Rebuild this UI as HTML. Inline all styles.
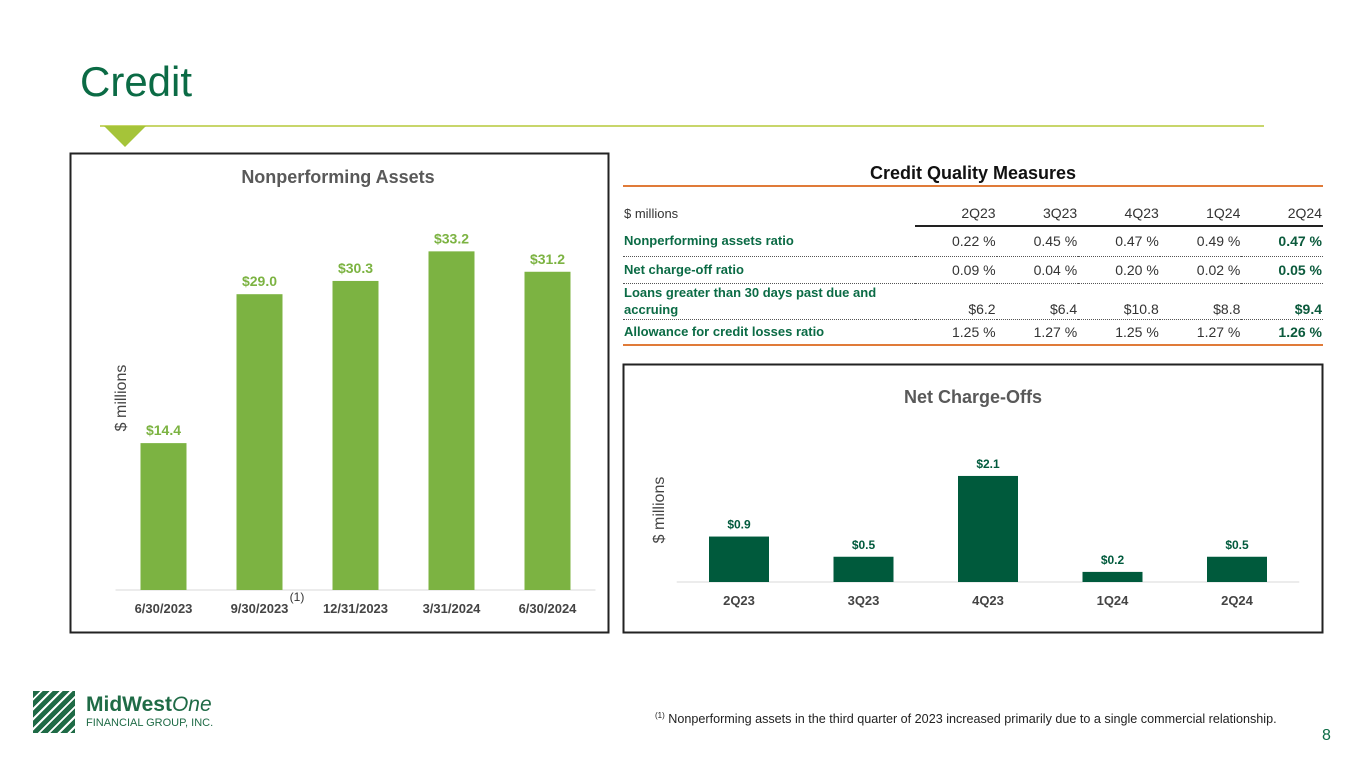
<!DOCTYPE html>
<html><head><meta charset="utf-8"><style>
body{margin:0;width:1365px;height:768px;background:#fff;font-family:"Liberation Sans",sans-serif;position:relative;overflow:hidden}
.abs{position:absolute}
table{border-collapse:collapse}
td{padding:0 1px}
</style></head><body>
<div class="abs" style="left:80px;top:58px;font-size:42px;color:#0b6b45">Credit</div>
<div class="abs" style="left:100px;top:125px;width:1164px;height:2px;background:#c8d66b"></div>
<svg class="abs" style="left:104px;top:126px" width="42" height="22"><polygon points="0,0 42,0 21,21" fill="#a5c439"/></svg>

<svg class="abs" style="left:0;top:0" width="1365" height="768">
<rect x="70.5" y="153.5" width="538" height="479" fill="none" stroke="#222" stroke-width="2"/>
<text x="338" y="183" text-anchor="middle" font-size="18" font-weight="bold" fill="#595959">Nonperforming Assets</text>
<text transform="translate(126,398) rotate(-90)" text-anchor="middle" font-size="16" fill="#444">$ millions</text>
<g id="npa"></g>
<text x="297" y="601" text-anchor="middle" font-size="12" fill="#333">(1)</text>
<rect x="623.5" y="364.5" width="699" height="268" fill="none" stroke="#222" stroke-width="2"/>
<text x="973" y="403" text-anchor="middle" font-size="18" font-weight="bold" fill="#595959">Net Charge-Offs</text>
<text transform="translate(664,510) rotate(-90)" text-anchor="middle" font-size="16" fill="#444">$ millions</text>
<g id="nco"></g>
</svg>

<div class="abs" style="left:623px;top:163px;width:700px;text-align:center;font-size:18px;font-weight:bold;color:#111">Credit Quality Measures</div>
<div class="abs" style="left:623px;top:185px;width:700px;height:2px;background:#e07b39"></div>
<table class="abs" style="left:623px;top:200px;width:700px;font-size:14px;color:#333">
<tr style="height:26px"><td style="font-size:13px">$ millions</td><td style="text-align:right;border-bottom:2px solid #222">2Q23</td><td style="text-align:right;border-bottom:2px solid #222">3Q23</td><td style="text-align:right;border-bottom:2px solid #222">4Q23</td><td style="text-align:right;border-bottom:2px solid #222">1Q24</td><td style="text-align:right;border-bottom:2px solid #222">2Q24</td></tr>
<tr style="height:30px;border-bottom:1px dotted #555"><td style="color:#0b6b45;font-weight:bold;font-size:13px">Nonperforming assets ratio</td><td align="right">0.22 %</td><td align="right">0.45 %</td><td align="right">0.47 %</td><td align="right">0.49 %</td><td align="right" style="font-weight:bold;color:#0b5a3c">0.47 %</td></tr>
<tr style="height:27px;border-bottom:1px dotted #555"><td style="color:#0b6b45;font-weight:bold;font-size:13px">Net charge-off ratio</td><td align="right">0.09 %</td><td align="right">0.04 %</td><td align="right">0.20 %</td><td align="right">0.02 %</td><td align="right" style="font-weight:bold;color:#0b5a3c">0.05 %</td></tr>
<tr style="height:36px;border-bottom:1px dotted #555"><td style="color:#0b6b45;font-weight:bold;font-size:13px;width:290px;line-height:17px">Loans greater than 30 days past due and accruing</td><td align="right" style="vertical-align:bottom;padding-bottom:2px">$6.2</td><td align="right" style="vertical-align:bottom;padding-bottom:2px">$6.4</td><td align="right" style="vertical-align:bottom;padding-bottom:2px">$10.8</td><td align="right" style="vertical-align:bottom;padding-bottom:2px">$8.8</td><td align="right" style="font-weight:bold;color:#0b5a3c;vertical-align:bottom;padding-bottom:2px">$9.4</td></tr>
<tr style="height:26px;border-bottom:2px solid #e07b39"><td style="color:#0b6b45;font-weight:bold;font-size:13px">Allowance for credit losses ratio</td><td align="right">1.25 %</td><td align="right">1.27 %</td><td align="right">1.25 %</td><td align="right">1.27 %</td><td align="right" style="font-weight:bold;color:#0b5a3c">1.26 %</td></tr>
</table>

<div class="abs" style="left:33px;top:691px;width:42px;height:42px;background:repeating-linear-gradient(135deg,#1f6b46 0 5px,#fff 5px 7px)"></div>
<div class="abs" style="left:86px;top:693px;font-size:21px;font-weight:bold;color:#1f6b46">MidWest<i style="font-weight:normal">One</i></div>
<div class="abs" style="left:86px;top:717px;font-size:11px;color:#1f6b46">FINANCIAL GROUP, INC.</div>
<div class="abs" style="left:655px;top:711px;font-size:12.6px;color:#222"><sup style="font-size:8px">(1)</sup> Nonperforming assets in the third quarter of 2023 increased primarily due to a single commercial relationship.</div>
<div class="abs" style="left:1322px;top:727px;font-size:16px;color:#0b6b45">8</div>

<script>
const npaCategories=["6/30/2023","9/30/2023","12/31/2023","3/31/2024","6/30/2024"];
const npaValues=[14.4,29.0,30.3,33.2,31.2];
const ncoCategories=["2Q23","3Q23","4Q23","1Q24","2Q24"];
const ncoValues=[0.9,0.5,2.1,0.2,0.5];
const NS="http://www.w3.org/2000/svg";
function mk(g,t,a){const e=document.createElementNS(NS,t);for(const k in a)e.setAttribute(k,a[k]);g.appendChild(e);return e;}
function draw(id,cats,vals,x0,step,bw,base,scale,color,fs,name){
  const g=document.getElementById(id);
  const ax=mk(g,'line',{x1:x0-step/2,x2:x0+step*(cats.length-0.5),y1:base,y2:base,stroke:'#d9d9d9'});
  
  
  cats.forEach((c,i)=>{
    const cx=x0+i*step,h=vals[i]*scale;
    const r=mk(g,'rect',{x:cx-bw/2,y:base-h,width:bw,height:h,fill:color});
    
    
    const l=mk(g,'text',{x:cx,y:base-h-8,'text-anchor':'middle','font-size':fs,'font-weight':'bold',fill:color});
    l.textContent='$'+vals[i].toFixed(1);
    
    
    const t=mk(g,'text',{x:cx,y:base+23,'text-anchor':'middle','font-size':13,'font-weight':'bold',fill:'#444'});
    t.textContent=c;
    
    
  });
}
draw('npa',npaCategories,npaValues,163.5,96,46,590,10.2,'#7cb342',14,'npa');
draw('nco',ncoCategories,ncoValues,739,124.5,60,582,50.5,'#005a3c',12,'nco');
</script>
</body></html>
